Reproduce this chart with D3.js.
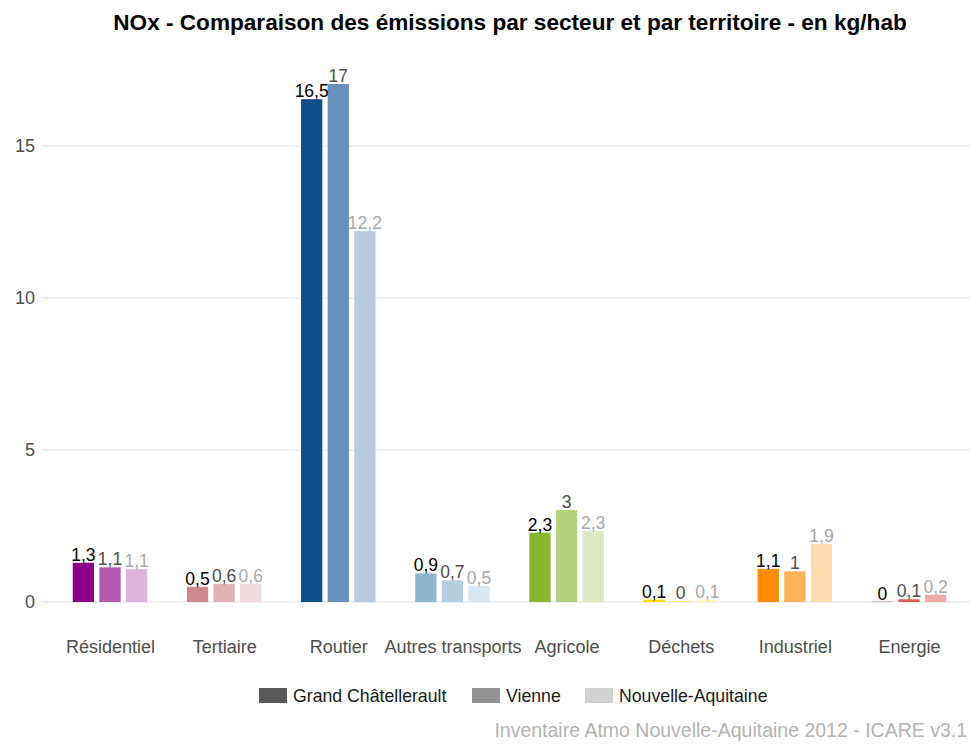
<!DOCTYPE html>
<html>
<head>
<meta charset="utf-8">
<script src="https://cdn.jsdelivr.net/npm/d3@7"></script>
<style>
  body { margin: 0; background: #fff; }
  svg { display: block; font-family: "Liberation Sans", Arial, sans-serif; }
</style>
</head>
<body>
<svg id="chart" width="970" height="744"></svg>
<script>
// NOx emissions per inhabitant, by sector and territory (kg/hab)
const categories = ["Résidentiel", "Tertiaire", "Routier", "Autres transports", "Agricole", "Déchets", "Industriel", "Energie"];
const territories = ["Grand Châtellerault", "Vienne", "Nouvelle-Aquitaine"];

const valuesGrandChatellerault = [1.29, 0.50, 16.54, 0.94, 2.28, 0.08, 1.09, 0.01];
const valuesVienne             = [1.14, 0.59, 17.04, 0.71, 3.03, 0.03, 1.01, 0.09];
const valuesNouvelleAquitaine  = [1.08, 0.60, 12.20, 0.53, 2.34, 0.06, 1.91, 0.24];

const yTicks = [0, 5, 10, 15];

// Sector colours: strong / medium / pale shade for the three territories
const sectorColors = [
  ["#8B008B", "#B35AB3", "#DEB3DE"],
  ["#CD8891", "#E0B1B7", "#F0DADD"],
  ["#104E8B", "#6690BB", "#B8CBE1"],
  ["#8DB6CD", "#B6CFDF", "#DAE7F0"],
  ["#8AB52E", "#B3D17C", "#DCE9C2"],
  ["#FFD700", "#FFE566", "#FFF1A8"],
  ["#FF8C00", "#FFB259", "#FFDBB0"],
  ["#CD2626", "#E05A5A", "#F0AAAA"]
];
const legendColors = ["#595959", "#939393", "#D0D0D0"];
const labelColors = ["#000000", "#4D4D4D", "#A9A9A9"];

const series = [valuesGrandChatellerault, valuesVienne, valuesNouvelleAquitaine];
const rows = [];
categories.forEach((c, i) => {
  territories.forEach((t, j) => {
    rows.push({ category: c, territory: t, value: series[j][i], ci: i, ti: j });
  });
});

const svg = d3.select("#chart");

const x = d3.scalePoint().domain(categories).range([110, 909]);
const xInner = d3.scaleBand().domain(territories).range([-37.25, 37.25]).paddingInner(0.2).paddingOuter(0);
const y = d3.scaleLinear().domain([0, 15]).range([602, 146]);

// Horizontal grid
svg.append("g")
  .selectAll("line")
  .data(yTicks)
  .join("line")
  .attr("x1", 42).attr("x2", 970)
  .attr("y1", d => y(d)).attr("y2", d => y(d))
  .attr("stroke", "#EBEBEB").attr("stroke-width", 1.6);

// Y axis labels
const yAxis = d3.axisLeft(y).tickValues(yTicks).tickSize(0).tickPadding(0);
const gy = svg.append("g").attr("transform", "translate(35,0)").call(yAxis);
gy.select(".domain").remove();
gy.selectAll("text")
  .attr("font-size", 18)
  .attr("fill", "#4D4D4D")
  .attr("font-family", "Liberation Sans, Arial, sans-serif");

// X axis labels
const xAxis = d3.axisBottom(x).tickSize(0).tickPadding(0);
const gx = svg.append("g").attr("transform", "translate(0,640)").call(xAxis);
gx.select(".domain").remove();
gx.selectAll("text")
  .attr("font-size", 18)
  .attr("fill", "#4D4D4D")
  .attr("font-family", "Liberation Sans, Arial, sans-serif");

// Bars
svg.append("g")
  .selectAll("rect")
  .data(rows)
  .join("rect")
  .attr("x", d => x(d.category) + xInner(d.territory))
  .attr("width", xInner.bandwidth())
  .attr("y", d => y(d.value))
  .attr("height", d => y(0) - y(d.value))
  .attr("fill", d => sectorColors[d.ci][d.ti]);

// Value labels (one decimal, French decimal comma, trailing zero dropped)
const fmt = v => {
  const r = Math.round(v * 10) / 10;
  return String(r).replace(".", ",");
};
svg.append("g")
  .selectAll("text")
  .data(rows)
  .join("text")
  .attr("x", d => x(d.category) + xInner(d.territory) + xInner.bandwidth() / 2)
  .attr("y", d => y(d.value) - 2)
  .attr("text-anchor", "middle")
  .attr("font-size", 17.5)
  .attr("fill", d => labelColors[d.ti])
  .text(d => fmt(d.value));

// Title
svg.append("text")
  .attr("x", 510).attr("y", 30)
  .attr("text-anchor", "middle")
  .attr("font-size", 22.6)
  .attr("font-weight", "bold")
  .attr("fill", "#000")
  .text("NOx - Comparaison des émissions par secteur et par territoire - en kg/hab");

// Legend
const legendX = [259, 472, 585];
const legend = svg.append("g")
  .selectAll("g")
  .data(territories)
  .join("g")
  .attr("transform", (d, i) => `translate(${legendX[i]},688)`);
legend.append("rect")
  .attr("width", 28).attr("height", 15)
  .attr("fill", (d, i) => legendColors[i]);
legend.append("text")
  .attr("x", 34).attr("y", 14)
  .attr("font-size", 17.7)
  .attr("fill", "#1A1A1A")
  .text(d => d);

// Source caption, right-aligned to the page edge
svg.append("text")
  .attr("x", 967).attr("y", 737)
  .attr("text-anchor", "end")
  .attr("font-size", 19.5)
  .attr("fill", "#B3B3B3")
  .text("Inventaire Atmo Nouvelle-Aquitaine 2012 - ICARE v3.1");
</script>
</body>
</html>
